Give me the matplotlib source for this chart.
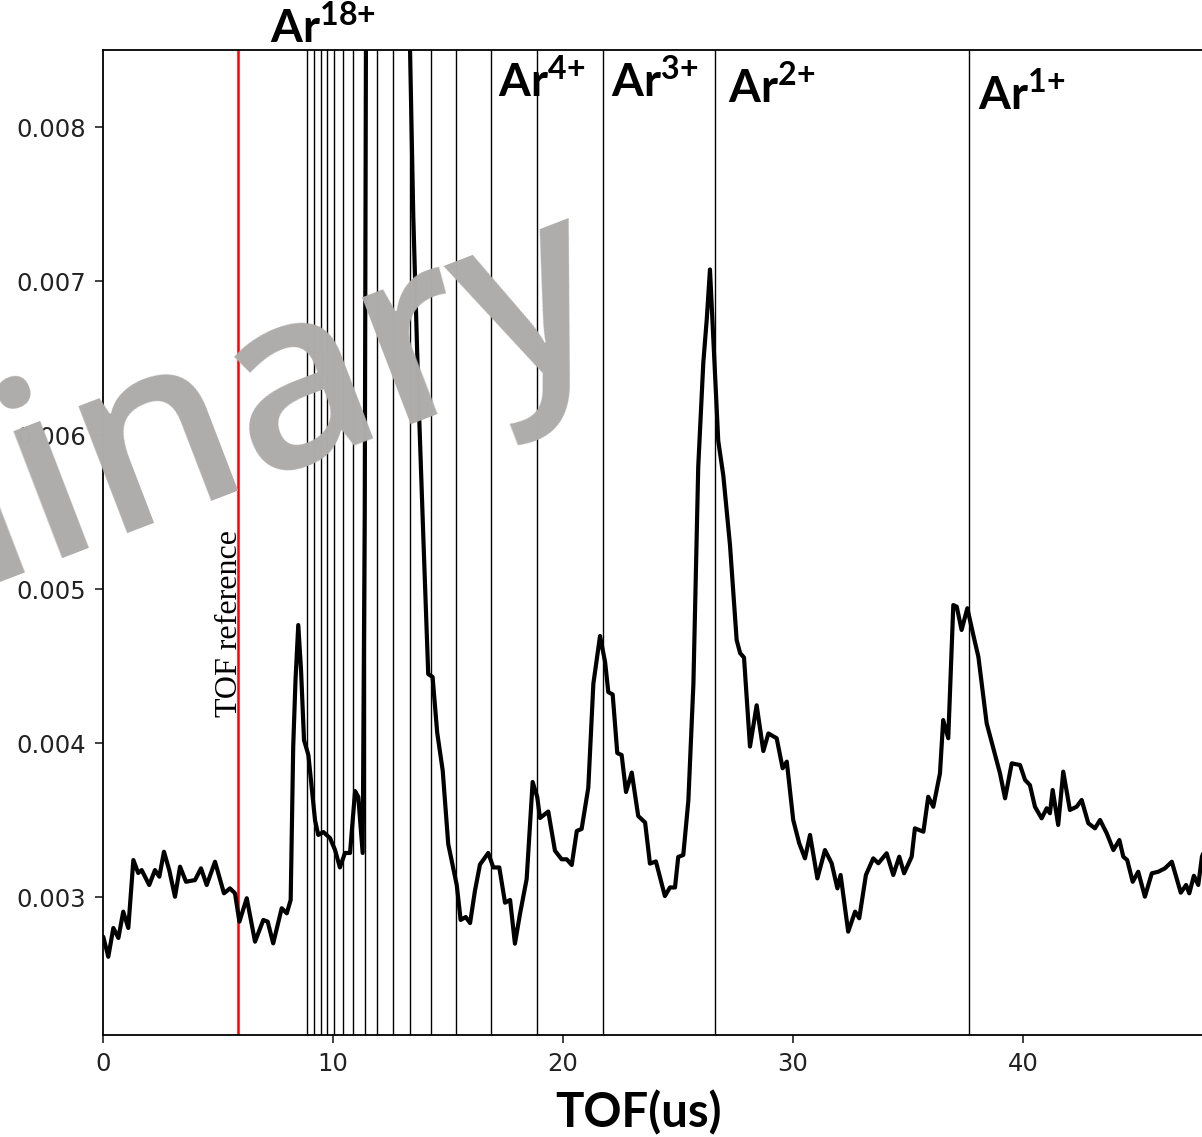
import matplotlib as mpl
import matplotlib.pyplot as plt
from matplotlib.ticker import FormatStrFormatter

# TOF spectrum (x in us, y in units of 1e-3)
tof_us = [0.01, 0.23, 0.45, 0.67, 0.88, 1.10, 1.32, 1.53, 1.68, 2.01,
          2.26, 2.45, 2.65, 2.88, 3.13, 3.35, 3.61, 4.00, 4.26, 4.51,
          4.87, 5.26, 5.52, 5.74, 5.93, 6.25, 6.61, 6.97, 7.16, 7.40,
          7.77, 7.99, 8.16, 8.27, 8.37, 8.49, 8.61, 8.74, 8.93, 9.22,
          9.36, 9.58, 9.87, 10.09, 10.30, 10.52, 10.74, 10.96, 11.10, 11.29,
          11.38, 11.44, 11.55, 12.0, 12.6, 13.1, 13.30, 13.35, 13.49, 13.71,
          13.93, 14.14, 14.33, 14.53, 14.77, 15.01, 15.38, 15.55, 15.77, 15.96,
          16.17, 16.39, 16.75, 16.97, 17.23, 17.48, 17.70, 17.91, 18.13, 18.42,
          18.68, 18.88, 19.00, 19.36, 19.65, 19.94, 20.16, 20.38, 20.60, 20.81,
          21.10, 21.32, 21.61, 21.83, 21.97, 22.16, 22.36, 22.55, 22.74, 22.99,
          23.27, 23.57, 23.78, 24.04, 24.43, 24.65, 24.87, 25.01, 25.23, 25.45,
          25.67, 25.88, 26.10, 26.25, 26.39, 26.53, 26.75, 26.97, 27.26, 27.55,
          27.70, 27.87, 28.13, 28.42, 28.71, 28.93, 29.29, 29.55, 29.73, 30.01,
          30.27, 30.52, 30.74, 31.06, 31.39, 31.68, 31.93, 32.07, 32.40, 32.70,
          32.88, 33.17, 33.49, 33.71, 34.07, 34.36, 34.62, 34.83, 35.16, 35.30,
          35.67, 35.88, 36.10, 36.39, 36.53, 36.75, 36.97, 37.12, 37.33, 37.58,
          37.84, 38.06, 38.42, 38.71, 39.00, 39.22, 39.51, 39.87, 40.09, 40.30,
          40.52, 40.81, 41.03, 41.17, 41.29, 41.53, 41.75, 42.04, 42.33, 42.55,
          42.84, 43.13, 43.35, 43.64, 43.93, 44.19, 44.36, 44.53, 44.77, 45.01,
          45.30, 45.60, 45.88, 46.17, 46.47, 46.86, 47.09, 47.23, 47.43, 47.62,
          47.78, 48.0]
signal_e3 = [2.742, 2.612, 2.799, 2.734, 2.905, 2.799, 3.240, 3.156, 3.175, 3.078,
             3.175, 3.132, 3.294, 3.175, 3.002, 3.197, 3.099, 3.110, 3.186, 3.078,
             3.229, 3.024, 3.056, 3.024, 2.840, 2.992, 2.710, 2.851, 2.840, 2.699,
             2.927, 2.894, 2.981, 3.976, 4.409, 4.766, 4.474, 4.019, 3.922, 3.497,
             3.403, 3.422, 3.383, 3.305, 3.192, 3.286, 3.286, 3.688, 3.649, 3.286,
             5.5, 9.0, 11.5, 14.0, 14.5, 12.0, 9.3, 8.5, 7.422, 6.279,
             5.325, 4.448, 4.429, 4.068, 3.821, 3.344, 3.078, 2.851, 2.870, 2.831,
             3.039, 3.211, 3.286, 3.192, 3.192, 2.963, 2.981, 2.697, 2.890, 3.117,
             3.747, 3.649, 3.513, 3.555, 3.301, 3.245, 3.245, 3.208, 3.429, 3.442,
             3.710, 4.385, 4.695, 4.526, 4.331, 4.315, 3.935, 3.922, 3.682, 3.808,
             3.526, 3.484, 3.217, 3.231, 3.006, 3.062, 3.062, 3.260, 3.273, 3.625,
             4.385, 5.794, 6.469, 6.751, 7.075, 6.638, 5.962, 5.737, 5.286, 4.669,
             4.584, 4.555, 3.977, 4.245, 3.948, 4.062, 4.031, 3.836, 3.879, 3.500,
             3.349, 3.251, 3.403, 3.121, 3.305, 3.219, 3.056, 3.143, 2.775, 2.905,
             2.862, 3.143, 3.251, 3.219, 3.284, 3.143, 3.262, 3.154, 3.262, 3.446,
             3.424, 3.651, 3.586, 3.803, 4.149, 4.031, 4.896, 4.885, 4.734, 4.875,
             4.701, 4.560, 4.128, 3.966, 3.803, 3.641, 3.868, 3.857, 3.760, 3.727,
             3.586, 3.511, 3.576, 3.544, 3.695, 3.468, 3.814, 3.565, 3.586, 3.630,
             3.479, 3.446, 3.500, 3.414, 3.305, 3.370, 3.262, 3.240, 3.099, 3.164,
             3.002, 3.154, 3.164, 3.186, 3.229, 3.028, 3.078, 3.024, 3.138, 3.078,
             3.262, 3.35]
signal = [v * 1e-3 for v in signal_e3]

# expected arrival of Ar charge states q = 1 .. 18
charge_tof = [37.65, 26.60, 21.76, 18.86, 16.86, 15.36, 14.26, 13.36, 12.59,
              11.93, 11.39, 10.89, 10.43, 10.06, 9.76, 9.46, 9.17, 8.86]
ref_tof = 5.87

label_charges = ['18', '4', '3', '2', '1']

W, H = 1202, 1137

mpl.rcParams['mathtext.fontset'] = 'custom'
mpl.rcParams['mathtext.rm'] = 'Lato'
mpl.rcParams['mathtext.bf'] = 'Lato:bold'


def px(x, y):
    return x / W, 1 - y / H


f = plt.figure(figsize=(W / 100, H / 100), dpi=100)
ax = f.add_axes([103 / W, 1 - 1035 / H, 48 * 23 / W, (1035 - 50) / H])

for t in charge_tof:
    ax.axvline(t, color='black', lw=1.0, zorder=1)
ax.axvline(ref_tof, color='red', lw=1.8, zorder=1)

ax.plot(tof_us, signal, color='black', lw=3.0, zorder=2,
        solid_joinstyle='round', solid_capstyle='round')

ax.set_xlim(0, 48)
ax.set_ylim(0.002104, 0.0085)
ax.set_xticks([0, 10, 20, 30, 40])
ax.set_yticks([0.003, 0.004, 0.005, 0.006, 0.007, 0.008])
ax.yaxis.set_major_formatter(FormatStrFormatter('%.3f'))
ax.tick_params(labelsize=17.5, length=6, width=1.2, pad=6, colors='#222222')
for s in ax.spines.values():
    s.set_linewidth(1.3)

ax.text(5.81, 0.004171, 'TOF reference', rotation=90, rotation_mode='anchor',
        ha='left', va='baseline', fontsize=23, family='Liberation Serif')

# Ar charge state labels
label_px = [(270, 43), (498, 97), (611, 97), (728, 103), (978, 110)]
for q, (x, y) in zip(label_charges, label_px):
    f.text(*px(x, y), 'Ar$^{\\mathbf{%s{+}}}$' % q, ha='left', va='baseline',
           fontsize=33, weight='bold', family='Lato')

f.text(*px(638, 1127), 'TOF(us)', ha='center', va='baseline',
       fontsize=34, weight='bold', family='Lato')

# watermark
f.text(*px(617, 336), 'Preliminary', rotation=21, rotation_mode='anchor',
       ha='right', va='baseline', fontsize=180, color='#afadac',
       family='Open Sans', weight=600, zorder=5)

f.savefig('out.png', dpi=100)
plt.close(f)
